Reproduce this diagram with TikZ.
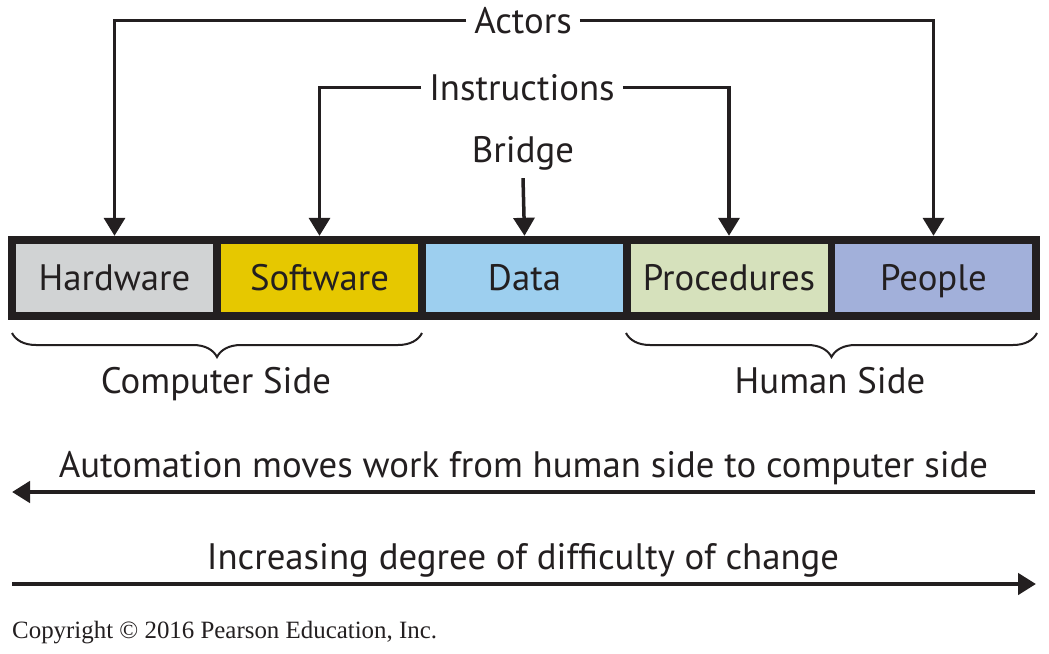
\documentclass[tikz,border=0pt]{standalone}
\usepackage{fontspec}
\setmainfont{PT Sans}
\newfontfamily\copyfont{Liberation Serif}
\usetikzlibrary{decorations.pathreplacing,arrows.meta}
\definecolor{ink}{HTML}{231F20}
\definecolor{hwgray}{HTML}{D1D3D4}
\definecolor{swyellow}{HTML}{E6C800}
\definecolor{datablue}{HTML}{9DCFEF}
\definecolor{procgreen}{HTML}{D6E1BC}
\definecolor{peopleblue}{HTML}{A2B0DA}
\begin{document}
\begin{tikzpicture}[x=1pt,y=-1pt,
  lbl/.style={font=\fontsize{36.8}{42}\selectfont, text=ink, inner sep=0pt,
    text height=25.8pt, text depth=0pt},
  toplbl/.style={lbl, inner xsep=8pt},
  cell/.style={lbl, minimum width=197pt, minimum height=68pt, inner sep=0pt},
  arr/.style={draw=ink, line width=3.5pt, -{Triangle[length=18pt,width=21pt]}},
  bigarr/.style={draw=ink, line width=4.5pt, -{Triangle[length=18pt,width=21pt]}},
  bracestyle/.style={draw=ink, line width=2pt, decorate,
    decoration={brace, mirror, amplitude=24pt}}]
\useasboundingbox (0,0) rectangle (1049,653);
\fill[white] (0,0) rectangle (1049,653);
% bar
\node[fill=ink, minimum width=1032pt, minimum height=84pt, inner sep=0pt] (bar) at (524,278) {};
\node[cell, fill=hwgray] (hw) at (114.5,278) {Hardware};
\node[cell, fill=swyellow] (sw) at (319.5,278) {Software};
\node[cell, fill=datablue] (data) at (524.5,278) {Data};
\node[cell, fill=procgreen] (proc) at (729,278) {Procedures};
\node[cell, fill=peopleblue] (people) at (933.5,278) {People};
% top labels
\node[toplbl] (actors) at (523,20.5) {Actors};
\node[toplbl] (instr) at (522,87.5) {Instructions};
\node[lbl, inner ysep=15pt] (bridge) at (523,150) {Bridge};
\draw[arr] (actors.west) -| (hw.north |- bar.north);
\draw[arr] (actors.east) -| (people.north |- bar.north);
\draw[arr] (instr.west) -| (sw.north |- bar.north);
\draw[arr] (instr.east) -| (proc.north |- bar.north);
\draw[arr] (bridge.south) -- (data.north |- bar.north);
% braces
\coordinate (cl) at (12,333);
\coordinate (cr) at (422,333);
\coordinate (hl) at (626,333);
\coordinate (hr) at (1037,333);
\draw[bracestyle] (cl) -- (cr);
\draw[bracestyle] (hl) -- (hr);
\node[lbl] (comp) at (216,380.5) {Computer Side};
\node[lbl] (human) at (830,380.5) {Human Side};
% bottom arrows
\coordinate (aR) at (1035,492);
\coordinate (aL) at (12,492);
\draw[bigarr] (aR) -- (aL);
\node[lbl] (auto) at (523.5,464.5) {Automation moves work from human side to computer side};
\coordinate (iL) at (12,584);
\coordinate (iR) at (1036,584);
\draw[bigarr] (iL) -- (iR);
\node[lbl] (incr) at (523,557) {Increasing degree of difficulty of change};
% copyright
\node[anchor=base west, inner sep=0pt, text=ink, font=\copyfont\fontsize{24.9}{28}\selectfont] (copy) at (12,638) {Copyright \textcopyright\ 2016 Pearson Education, Inc.};
\end{tikzpicture}
\end{document}
